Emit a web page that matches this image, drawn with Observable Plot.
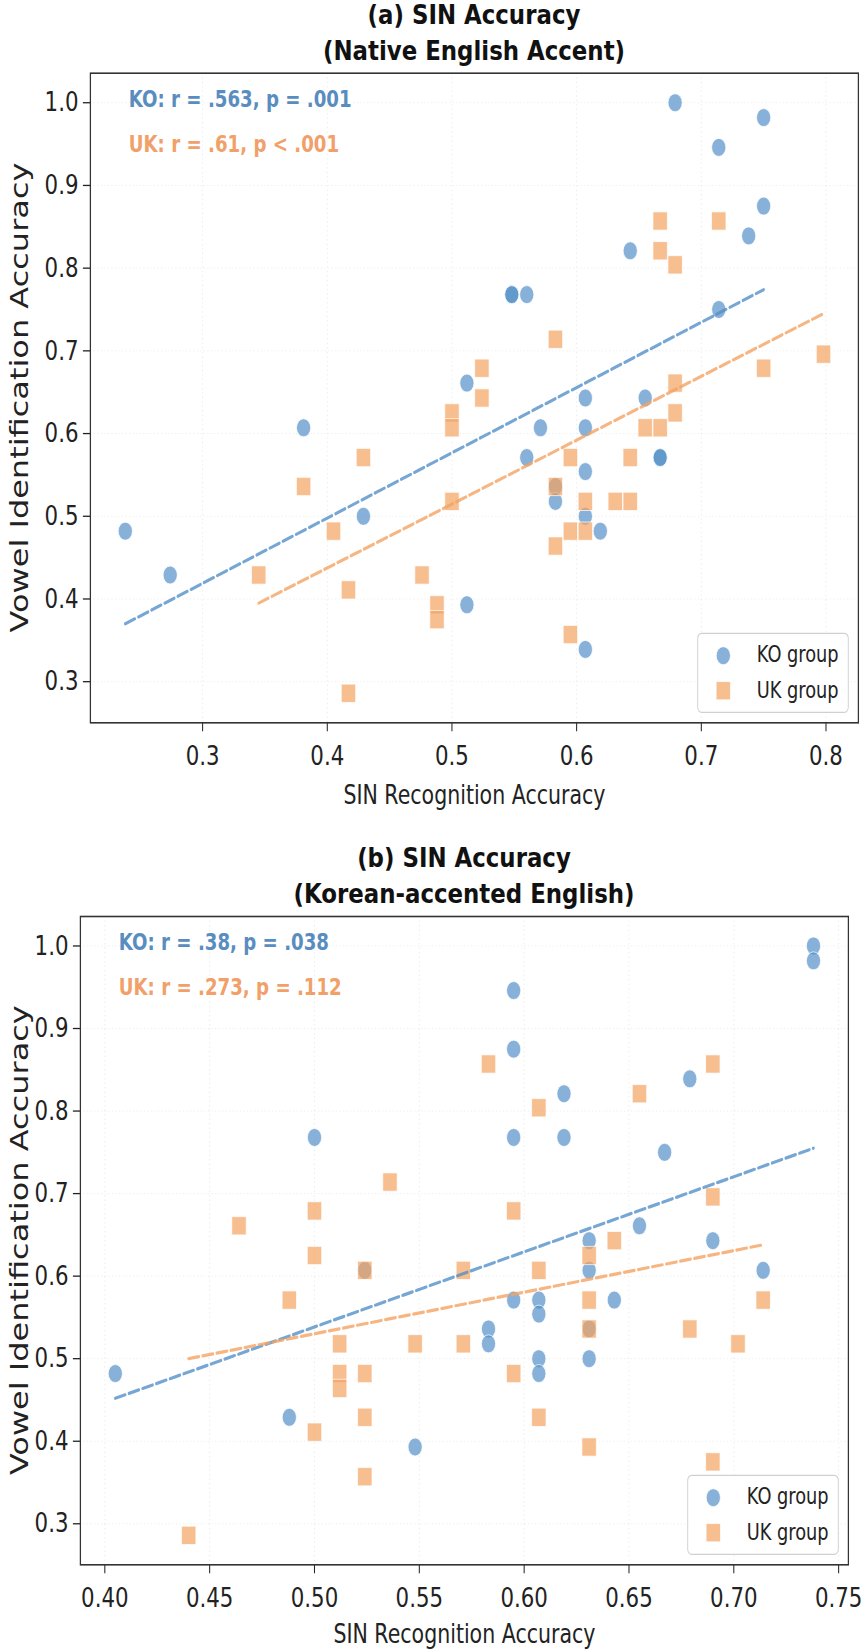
<!DOCTYPE html>
<html>
<head>
<meta charset="utf-8">
<script src="https://cdn.jsdelivr.net/npm/d3@7"></script>
<script src="https://cdn.jsdelivr.net/npm/@observablehq/plot@0.6"></script>
<style>
  html, body { margin: 0; padding: 0; background: #fff; overflow: hidden; }
  #page { position: relative; width: 864px; height: 1652px; }
  .title {
    position: absolute; width: 700px; text-align: center;
    font-family: "DejaVu Sans", sans-serif; font-weight: bold;
    font-size: 26px; line-height: 36px; color: #111;
    transform: scaleX(0.88); transform-origin: center; white-space: nowrap;
  }
  .panel { position: absolute; left: 0; }
</style>
</head>
<body>
<div id="page"></div>
<script>
// ---- (a) Native English accent ----
const koNativeSin   = [0.679, 0.750, 0.714, 0.750, 0.738, 0.643, 0.548, 0.548, 0.560, 0.714, 0.512, 0.607, 0.655, 0.381, 0.571, 0.607, 0.560, 0.667, 0.667, 0.607, 0.583, 0.583, 0.607, 0.429, 0.238, 0.619, 0.274, 0.512, 0.607];
const koNativeVowel = [1.000, 0.982, 0.946, 0.875, 0.839, 0.821, 0.768, 0.768, 0.768, 0.750, 0.661, 0.643, 0.643, 0.607, 0.607, 0.607, 0.571, 0.571, 0.571, 0.554, 0.536, 0.518, 0.500, 0.500, 0.482, 0.482, 0.429, 0.393, 0.339];
const ukNativeSin   = [0.667, 0.714, 0.667, 0.679, 0.583, 0.798, 0.750, 0.524, 0.524, 0.679, 0.500, 0.500, 0.679, 0.655, 0.667, 0.595, 0.643, 0.429, 0.583, 0.381, 0.500, 0.607, 0.631, 0.643, 0.595, 0.607, 0.405, 0.583, 0.345, 0.476, 0.417, 0.488, 0.488, 0.595, 0.417];
const ukNativeVowel = [0.857, 0.857, 0.821, 0.804, 0.714, 0.696, 0.679, 0.679, 0.643, 0.661, 0.625, 0.607, 0.625, 0.607, 0.607, 0.571, 0.571, 0.571, 0.536, 0.536, 0.518, 0.518, 0.518, 0.518, 0.482, 0.482, 0.482, 0.464, 0.429, 0.429, 0.411, 0.393, 0.375, 0.357, 0.286];
// fitted trend lines (end points)
const koNativeFitSin = [0.238, 0.750], koNativeFitVowel = [0.370, 0.774];
const ukNativeFitSin = [0.345, 0.798], ukNativeFitVowel = [0.395, 0.745];

// ---- (b) Korean-accented English ----
const koAccentSin   = [0.738, 0.738, 0.595, 0.595, 0.619, 0.679, 0.500, 0.595, 0.619, 0.667, 0.655, 0.631, 0.690, 0.631, 0.714, 0.524, 0.595, 0.607, 0.607, 0.643, 0.583, 0.583, 0.631, 0.607, 0.607, 0.631, 0.405, 0.488, 0.548];
const koAccentVowel = [1.000, 0.982, 0.946, 0.875, 0.821, 0.839, 0.768, 0.768, 0.768, 0.750, 0.661, 0.643, 0.643, 0.607, 0.607, 0.607, 0.571, 0.571, 0.554, 0.571, 0.536, 0.518, 0.536, 0.500, 0.482, 0.500, 0.482, 0.429, 0.393];
const ukAccentSin   = [0.536, 0.500, 0.464, 0.500, 0.583, 0.690, 0.655, 0.607, 0.595, 0.690, 0.643, 0.631, 0.571, 0.607, 0.631, 0.714, 0.571, 0.631, 0.679, 0.702, 0.595, 0.607, 0.631, 0.690, 0.524, 0.488, 0.512, 0.548, 0.512, 0.512, 0.524, 0.524, 0.500, 0.524, 0.440];
const ukAccentVowel = [0.714, 0.679, 0.661, 0.625, 0.857, 0.857, 0.821, 0.804, 0.679, 0.696, 0.643, 0.625, 0.607, 0.607, 0.571, 0.571, 0.518, 0.536, 0.536, 0.518, 0.482, 0.429, 0.393, 0.375, 0.607, 0.571, 0.518, 0.518, 0.482, 0.464, 0.482, 0.429, 0.411, 0.357, 0.286];
const koAccentFitSin = [0.405, 0.738], koAccentFitVowel = [0.452, 0.755];
const ukAccentFitSin = [0.440, 0.714], ukAccentFitVowel = [0.500, 0.638];

// ---- tick values and labels ----
const vowelTicks = [0.3, 0.4, 0.5, 0.6, 0.7, 0.8, 0.9, 1.0];
const nativeSinTicks = [0.3, 0.4, 0.5, 0.6, 0.7, 0.8];
const accentSinTicks = [0.40, 0.45, 0.50, 0.55, 0.60, 0.65, 0.70, 0.75];
const groupLabels = ["KO group", "UK group"];
const nativeStats = ["KO: r = .563, p = .001", "UK: r = .61, p < .001"];
const accentStats = ["KO: r = .38, p = .038", "UK: r = .273, p = .112"];
const xTitle = "SIN Recognition Accuracy";
const yTitle = "Vowel Identification Accuracy";

// The figure is drawn in a wider coordinate space and narrowed horizontally.
const SQUEEZE = 0.79;
const PAGE_W = 864;
const VIEW_W = PAGE_W / SQUEEZE;
const KO_COLOR = "#5490C8", UK_COLOR = "#F4A261";
const KO_TEXT = "#5A8DBF", UK_TEXT = "#F0A068";
const INK = "#222";
const DOT_R = 9, SQUARE_R = 10.3;

const page = document.getElementById("page");

function addTitle(lines, cx, top) {
  const div = document.createElement("div");
  div.className = "title";
  div.style.left = (cx - 350) + "px";
  div.style.top = top + "px";
  div.innerHTML = lines.map(l => `<div>${l}</div>`).join("");
  page.appendChild(div);
}

const toPoints = (xs, ys) => xs.map((x, i) => ({x, y: ys[i]}));

function scatterPanel(cfg) {
  const ko = toPoints(cfg.koSin, cfg.koVowel);
  const uk = toPoints(cfg.ukSin, cfg.ukVowel);
  const koFit = toPoints(cfg.koFitSin, cfg.koFitVowel);
  const ukFit = toPoints(cfg.ukFitSin, cfg.ukFitVowel);
  const all = ko.concat(uk);
  const padded = ext => { const r = ext[1] - ext[0]; return [ext[0] - 0.05 * r, ext[1] + 0.05 * r]; };
  const left = cfg.frameLeft / SQUEEZE;
  const rightEdge = cfg.frameRight / SQUEEZE;
  const frameBottom = cfg.height - cfg.marginBottom;
  const frameMid = (cfg.marginTop + frameBottom) / 2;
  const dash = {strokeWidth: 3.2, strokeOpacity: 0.8, strokeDasharray: "13,5"};

  const svg = Plot.plot({
    width: VIEW_W,
    height: cfg.height,
    marginLeft: left,
    marginRight: VIEW_W - rightEdge,
    marginTop: cfg.marginTop,
    marginBottom: cfg.marginBottom,
    x: {domain: padded(d3.extent(all, d => d.x)), label: null},
    y: {domain: padded(d3.extent(all, d => d.y)), label: null},
    style: {fontFamily: "DejaVu Sans, sans-serif", color: INK, background: "white", overflow: "visible"},
    marks: [
      Plot.gridX(cfg.xTicks, {stroke: "#999", strokeOpacity: 0.2, strokeDasharray: "1.5,3"}),
      Plot.gridY(vowelTicks, {stroke: "#999", strokeOpacity: 0.2, strokeDasharray: "1.5,3"}),
      Plot.axisX(cfg.xTicks, {tickFormat: cfg.xFormat, tickSize: 9, tickPadding: 14, fontSize: 27, label: null, strokeWidth: 1.3}),
      Plot.axisY(vowelTicks, {tickFormat: ".1f", tickSize: 9, tickPadding: 6, fontSize: 27, label: null, strokeWidth: 1.3}),
      Plot.dot(ko, {x: "x", y: "y", r: DOT_R, fill: KO_COLOR, fillOpacity: 0.7, stroke: "white", strokeWidth: 0.8}),
      Plot.dot(uk, {x: "x", y: "y", symbol: "square", r: SQUARE_R, fill: UK_COLOR, fillOpacity: 0.7, stroke: "white", strokeWidth: 0.8}),
      Plot.line(koFit, {x: "x", y: "y", stroke: KO_COLOR, ...dash}),
      Plot.line(ukFit, {x: "x", y: "y", stroke: UK_COLOR, ...dash}),
      Plot.frame({stroke: "#333", strokeWidth: 1.6}),
      Plot.text([cfg.stats[0]], {text: d => d, frameAnchor: "top-left", dx: 48.6, dy: 26, textAnchor: "start", lineAnchor: "middle", fontSize: 23, fontWeight: "bold", fill: KO_TEXT}),
      Plot.text([cfg.stats[1]], {text: d => d, frameAnchor: "top-left", dx: 48.6, dy: 71, textAnchor: "start", lineAnchor: "middle", fontSize: 23, fontWeight: "bold", fill: UK_TEXT}),
      Plot.text([xTitle], {text: d => d, frameAnchor: "bottom", dy: cfg.xLabelOffset, lineAnchor: "middle", fontSize: 26, fill: INK})
    ]
  });

  const g = d3.select(svg).append("g")
    .attr("font-family", "DejaVu Sans, sans-serif").attr("fill", INK);

  // vertical axis title
  g.append("text")
    .attr("transform", `translate(24,${frameMid}) rotate(-90)`)
    .attr("text-anchor", "middle").attr("dy", "0.35em")
    .attr("font-size", 32).text(yTitle);

  // legend box in the lower-right corner of the frame
  const boxW = 190.6, boxH = 79;
  const bx = rightEdge - 12.3 - boxW, by = frameBottom - 10 - boxH;
  g.append("rect").attr("x", bx).attr("y", by).attr("width", boxW).attr("height", boxH)
    .attr("rx", 5).attr("fill", "white").attr("fill-opacity", 0.85).attr("stroke", "#d0d0d0").attr("stroke-width", 1.2);
  g.append("circle").attr("cx", bx + 32.4).attr("cy", by + 22.4).attr("r", DOT_R)
    .attr("fill", KO_COLOR).attr("fill-opacity", 0.7).attr("stroke", "white").attr("stroke-width", 0.8);
  g.append("path").attr("d", d3.symbol(d3.symbolSquare, Math.PI * SQUARE_R * SQUARE_R)())
    .attr("transform", `translate(${bx + 32.4},${by + 57.4})`)
    .attr("fill", UK_COLOR).attr("fill-opacity", 0.7).attr("stroke", "white").attr("stroke-width", 0.8);
  groupLabels.forEach((label, i) => {
    g.append("text").attr("x", bx + 74.7).attr("y", by + 20.5 + i * 36)
      .attr("text-anchor", "start").attr("dy", "0.35em").attr("font-size", 22.5).text(label);
  });

  svg.setAttribute("width", PAGE_W);
  svg.setAttribute("preserveAspectRatio", "none");
  svg.style.width = PAGE_W + "px";
  svg.style.height = cfg.height + "px";
  svg.style.maxWidth = "none";

  const holder = document.createElement("div");
  holder.className = "panel";
  holder.style.top = cfg.top + "px";
  holder.appendChild(svg);
  page.appendChild(holder);
}

scatterPanel({
  koSin: koNativeSin, koVowel: koNativeVowel, ukSin: ukNativeSin, ukVowel: ukNativeVowel,
  koFitSin: koNativeFitSin, koFitVowel: koNativeFitVowel, ukFitSin: ukNativeFitSin, ukFitVowel: ukNativeFitVowel,
  xTicks: nativeSinTicks, xFormat: ".1f", stats: nativeStats,
  top: 0, height: 830, marginTop: 72.7, marginBottom: 107.7,
  frameLeft: 90, frameRight: 858, xLabelOffset: 72.7
});
scatterPanel({
  koSin: koAccentSin, koVowel: koAccentVowel, ukSin: ukAccentSin, ukVowel: ukAccentVowel,
  koFitSin: koAccentFitSin, koFitVowel: koAccentFitVowel, ukFitSin: ukAccentFitSin, ukFitVowel: ukAccentFitVowel,
  xTicks: accentSinTicks, xFormat: ".2f", stats: accentStats,
  top: 830, height: 822, marginTop: 86, marginBottom: 87.7,
  frameLeft: 80, frameRight: 848, xLabelOffset: 69.7
});

addTitle(["(a) SIN Accuracy", "(Native English Accent)"], 474, -3);
addTitle(["(b) SIN Accuracy", "(Korean-accented English)"], 464, 840);
</script>
</body>
</html>
